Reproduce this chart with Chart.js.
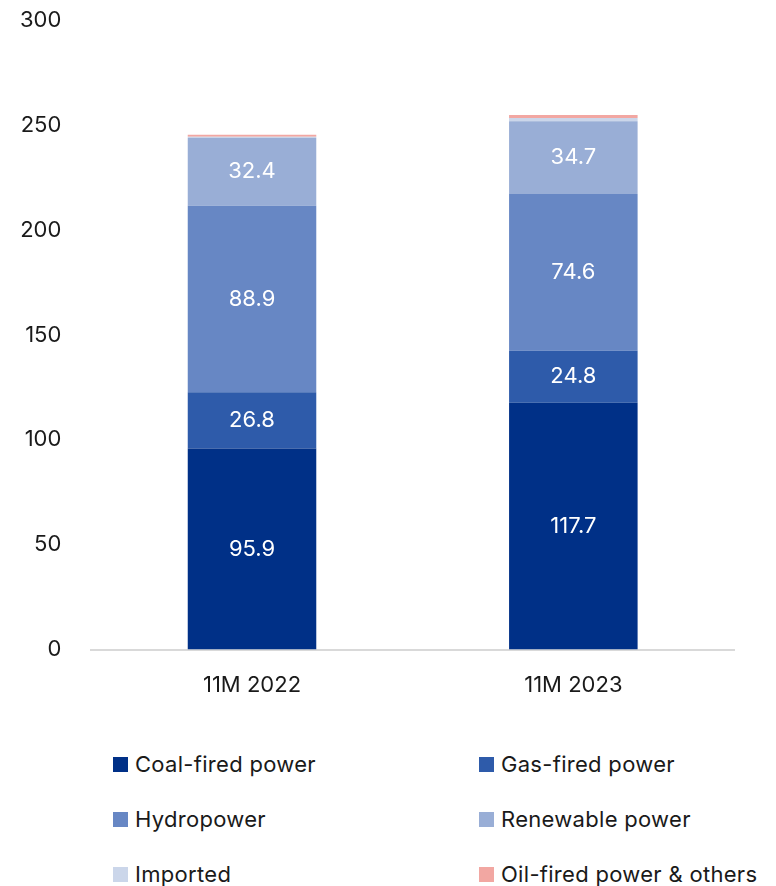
<!DOCTYPE html>
<html>
<head>
<meta charset="utf-8">
<script src="https://cdn.jsdelivr.net/npm/chart.js@4"></script>
<style>
  body { margin: 0; background: #fff; font-family: Inter, "Noto Sans", sans-serif; overflow: hidden; }
  #wrap { position: relative; width: 776px; height: 730px; overflow: hidden; }
  #chart { position: absolute; left: -12px; top: -15px; }
  #legend { position: absolute; left: 113px; top: 746px; width: 660px;
    display: grid; grid-template-columns: 366px 300px; row-gap: 19px; }
  .item { display: flex; align-items: center; font-size: 22px; letter-spacing: 0.3px; color: #1a1a1a; height: 36px; white-space: nowrap; }
  .box { width: 15px; height: 15px; margin-right: 7px; }
</style>
</head>
<body>
<div id="wrap"><canvas id="chart" width="792" height="743"></canvas></div>
<div id="legend"></div>
<script>
// categories and series (TWh)
const categories = ['11M 2022', '11M 2023'];
const coal = [95.9, 117.7];
const gas = [26.8, 24.8];
const hydro = [88.9, 74.6];
const renewable = [32.4, 34.7];
const imported = [0.4, 1.6];
const oilOthers = [1.0, 1.4];
const yTicks = [0, 50, 100, 150, 200, 250, 300];

const series = [
  { label: 'Coal-fired power', data: coal, color: '#003087', showLabel: true },
  { label: 'Gas-fired power', data: gas, color: '#2E5BAA', showLabel: true },
  { label: 'Hydropower', data: hydro, color: '#6787C4', showLabel: true },
  { label: 'Renewable power', data: renewable, color: '#99AED6', showLabel: true },
  { label: 'Imported', data: imported, color: '#CBD6EA', showLabel: false },
  { label: 'Oil-fired power & others', data: oilOthers, color: '#F2A7A2', showLabel: false }
];

const fontFamily = 'Inter, "Noto Sans", sans-serif';

// white value labels in the middle of the big segments
const barLabels = {
  id: 'barLabels',
  afterDatasetsDraw(chart) {
    const ctx = chart.ctx;
    ctx.save();
    ctx.font = '22px ' + fontFamily;
    ctx.fillStyle = '#ffffff';
    ctx.textAlign = 'center';
    ctx.textBaseline = 'middle';
    chart.data.datasets.forEach((ds, i) => {
      if (!series[i].showLabel) return;
      chart.getDatasetMeta(i).data.forEach((bar, j) => {
        const mid = (bar.y + bar.base) / 2;
        ctx.fillText(ds.data[j].toFixed(1), bar.x, mid);
      });
    });
    ctx.restore();
  }
};

new Chart(document.getElementById('chart'), {
  type: 'bar',
  data: {
    labels: categories,
    datasets: series.map(s => ({
      label: s.label,
      data: s.data,
      backgroundColor: s.color,
      borderWidth: 0,
      barPercentage: 0.8,
      categoryPercentage: 0.5
    }))
  },
  options: {
    responsive: false,
    animation: false,
    layout: { padding: { left: 10, right: 46, top: 8, bottom: 14 } },
    plugins: { legend: { display: false }, tooltip: { enabled: false } },
    scales: {
      x: {
        stacked: true,
        grid: { display: false },
        border: { color: '#d9d9d9', width: 2 },
        ticks: { color: '#1a1a1a', font: { size: 22, family: fontFamily }, padding: 15 }
      },
      y: {
        stacked: true,
        min: 0,
        max: 300,
        afterBuildTicks: axis => { axis.ticks = yTicks.map(v => ({ value: v })); },
        grid: { display: false },
        border: { display: false },
        ticks: { color: '#1a1a1a', font: { size: 22, family: fontFamily }, padding: 22 }
      }
    }
  },
  plugins: [barLabels]
});

// two-column legend
const legend = document.getElementById('legend');
series.forEach(s => {
  const item = document.createElement('div');
  item.className = 'item';
  item.innerHTML = '<span class="box" style="background:' + s.color + '"></span><span>' + s.label + '</span>';
  legend.appendChild(item);
});
</script>
</body>
</html>
